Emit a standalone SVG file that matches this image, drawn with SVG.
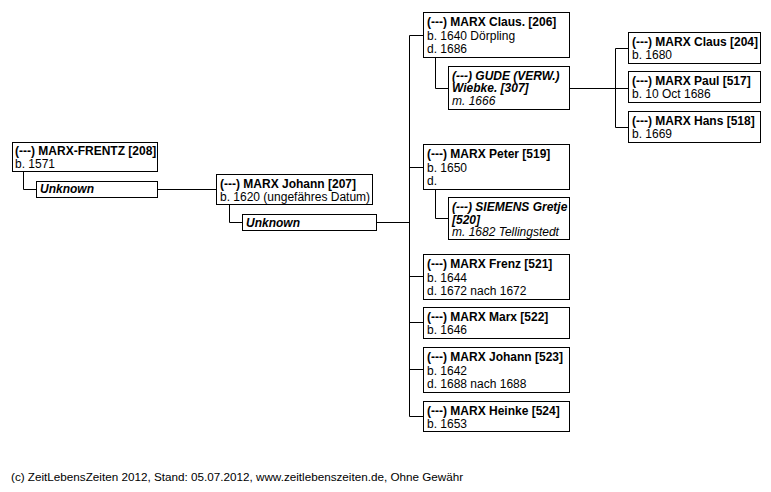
<svg xmlns="http://www.w3.org/2000/svg" width="771" height="492" viewBox="0 0 771 492">
<style>
rect.box{fill:#fff;stroke:#000;stroke-width:1}
text{font-family:"Liberation Sans",Arial,sans-serif;font-size:12px;fill:#000}
.b{font-weight:bold}
.bi{font-weight:bold;font-style:italic}
.i{font-style:italic}
.foot{font-size:11.7px}
.conn path{fill:none;stroke:#000;stroke-width:1}
</style>
<rect width="771" height="492" fill="#fff"/>
<g class="conn">
<path d="M23.5 171.5V189.5H36.5"/>
<path d="M157.5 189.5H216.5"/>
<path d="M229.5 204.5V222.5H242.5"/>
<path d="M376.5 222.5H409.5"/>
<path d="M409.5 35.5V416.5"/>
<path d="M409.5 35.5H423.5M409.5 167.5H423.5M409.5 276.5H423.5M409.5 322.5H423.5M409.5 369.5H423.5M409.5 416.5H423.5"/>
<path d="M435.5 57.5V88.5H448.5"/>
<path d="M569.5 88.5H615.5"/>
<path d="M615.5 48.5V127.5M615.5 48.5H628.5M615.5 88.5H628.5M615.5 127.5H628.5"/>
<path d="M435.5 189.5V218.5H448.5"/>
</g>
<g id="n208"><rect class="box" x="12.5" y="142.5" width="145" height="29"/><text x="15" y="155" class="b">(---) MARX-FRENTZ [208]</text><text x="15" y="167.5">b. 1571</text></g>
<g id="u208"><rect class="box" x="36.5" y="181.5" width="121" height="16"/><text x="40" y="193" class="bi">Unknown</text></g>
<g id="n207"><rect class="box" x="216.5" y="174.5" width="156" height="30"/><text x="220" y="187.5" class="b">(---) MARX Johann [207]</text><text x="220" y="200.5">b. 1620 (ungefähres Datum)</text></g>
<g id="u207"><rect class="box" x="242.5" y="214.5" width="134" height="16"/><text x="246" y="226.5" class="bi">Unknown</text></g>
<g id="n206"><rect class="box" x="423.5" y="12.5" width="146" height="45"/><text x="427" y="26" class="b">(---) MARX Claus. [206]</text><text x="427" y="39.5">b. 1640 Dörpling</text><text x="427" y="53">d. 1686</text></g>
<g id="n307"><rect class="box" x="448.5" y="66.5" width="121" height="43"/><text x="452" y="79.5" class="bi">(---) GUDE (VERW.)</text><text x="452" y="92" class="bi">Wiebke. [307]</text><text x="452" y="104.5" class="i">m. 1666</text></g>
<g id="n204"><rect class="box" x="628.5" y="32.5" width="132" height="31"/><text x="632" y="46" class="b">(---) MARX Claus [204]</text><text x="632" y="59">b. 1680</text></g>
<g id="n517"><rect class="box" x="628.5" y="71.5" width="132" height="31"/><text x="632" y="85" class="b">(---) MARX Paul [517]</text><text x="632" y="98">b. 10 Oct 1686</text></g>
<g id="n518"><rect class="box" x="628.5" y="111.5" width="132" height="31"/><text x="632" y="125" class="b">(---) MARX Hans [518]</text><text x="632" y="138">b. 1669</text></g>
<g id="n519"><rect class="box" x="423.5" y="144.5" width="146" height="45"/><text x="427" y="158" class="b">(---) MARX Peter [519]</text><text x="427" y="171.5">b. 1650</text><text x="427" y="185">d.</text></g>
<g id="n520"><rect class="box" x="448.5" y="197.5" width="121" height="42"/><text x="452" y="211" class="bi">(---) SIEMENS Gretje</text><text x="452" y="223.5" class="bi">[520]</text><text x="452" y="236" class="i">m. 1682 Tellingstedt</text></g>
<g id="n521"><rect class="box" x="423.5" y="254.5" width="146" height="45"/><text x="427" y="268" class="b">(---) MARX Frenz [521]</text><text x="427" y="281.5">b. 1644</text><text x="427" y="295">d. 1672 nach 1672</text></g>
<g id="n522"><rect class="box" x="423.5" y="307.5" width="146" height="31"/><text x="427" y="321" class="b">(---) MARX Marx [522]</text><text x="427" y="334">b. 1646</text></g>
<g id="n523"><rect class="box" x="423.5" y="347.5" width="146" height="45"/><text x="427" y="361" class="b">(---) MARX Johann [523]</text><text x="427" y="374.5">b. 1642</text><text x="427" y="388">d. 1688 nach 1688</text></g>
<g id="n524"><rect class="box" x="423.5" y="401.5" width="146" height="30"/><text x="427" y="415" class="b">(---) MARX Heinke [524]</text><text x="427" y="428">b. 1653</text></g>
<text class="foot" x="11" y="481">(c) ZeitLebensZeiten 2012, Stand: 05.07.2012, www.zeitlebenszeiten.de, Ohne Gewähr</text>
</svg>
